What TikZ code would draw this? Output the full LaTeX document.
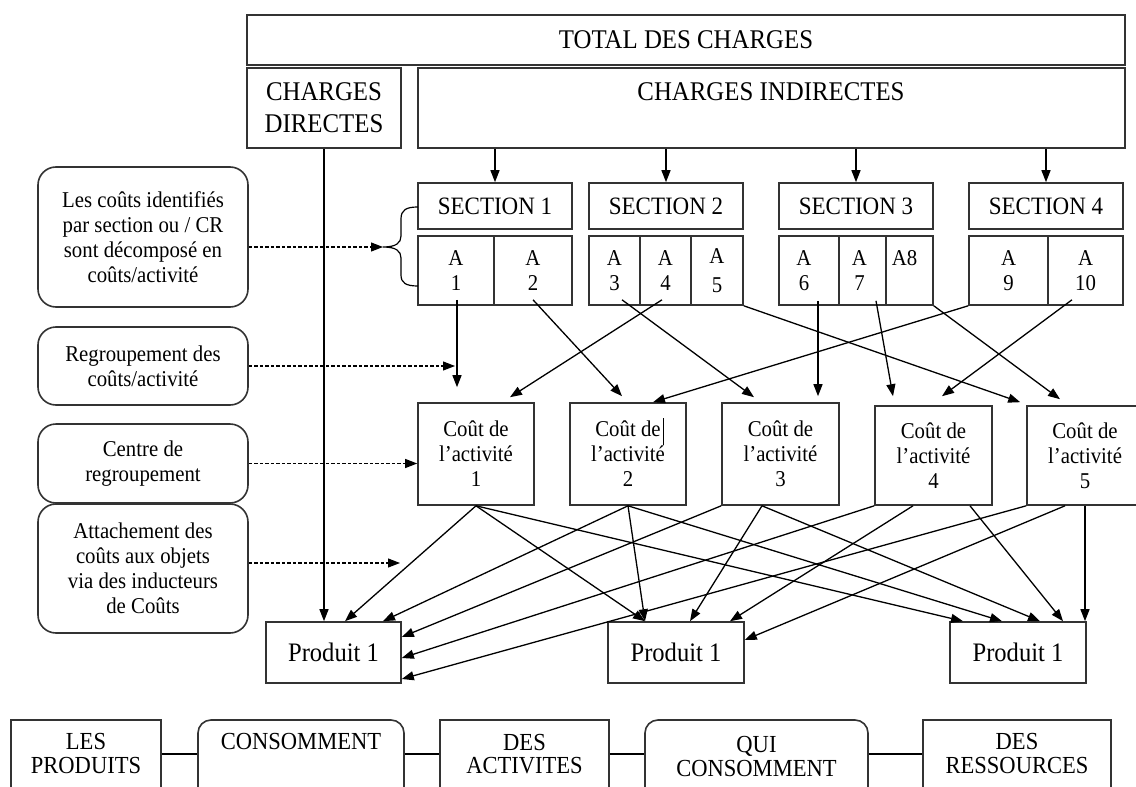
\documentclass[tikz,border=0pt]{standalone}
\usepackage{fontspec}
\setmainfont{Liberation Serif}[FakeStretch=0.92]
\usetikzlibrary{arrows.meta,calc}

\begin{document}
\begin{tikzpicture}[x=1pt,y=-1pt,
  box/.style={draw=black!80, line width=1.6pt, inner sep=0pt, align=center},
  rbox/.style={box, rounded corners=18pt},
  rsmall/.style={box, rounded corners=13pt},
  big/.style={font=\fontsize{27}{32}\selectfont},
  sec/.style={font=\fontsize{25}{30}\selectfont},
  mid/.style={font=\fontsize{22.6}{25}\selectfont, align=center},
  prod/.style={font=\fontsize{26.7}{30}\selectfont},
  low/.style={font=\fontsize{24.5}{23.5}\selectfont, align=center},
  arr/.style={line width=1.3pt, -{Triangle[length=12pt,width=9pt]}},
  dasharr/.style={line width=1.1pt, dash pattern=on 3.5pt off 2pt, -{Triangle[length=12pt,width=9pt]}},
  conn/.style={line width=1.3pt},
]
\useasboundingbox (0,0) rectangle (1136,787);
\fill[white] (0,0) rectangle (1136,787);
\clip (0,0) rectangle (1136,787);

% --- charges ---
\node[box,big,minimum width=878pt,minimum height=50pt] (total) at (686,40) {TOTAL DES CHARGES};
\node[box,big,minimum width=154pt,minimum height=80pt] (cd) at (324,108) {CHARGES\\DIRECTES};
\node[box,minimum width=707pt,minimum height=80pt] (ci) at (771.5,108) {};
\node[big] (ci-t) at (771,92) {CHARGES INDIRECTES};

% --- sections ---
\node[box,sec,minimum width=154pt,minimum height=46pt] (s1) at (495,206) {SECTION 1};
\node[box,sec,minimum width=154pt,minimum height=46pt] (s2) at (666,206) {SECTION 2};
\node[box,sec,minimum width=154pt,minimum height=46pt] (s3) at (856,206) {SECTION 3};
\node[box,sec,minimum width=154pt,minimum height=46pt] (s4) at (1046,206) {SECTION 4};

% --- activities ---
\node[box,mid,minimum width=76pt,minimum height=69pt] (a1) at (456,270.5) {A\\1};
\node[box,mid,minimum width=78pt,minimum height=69pt] (a2) at (533,270.5) {A\\2};
\node[box,mid,minimum width=51pt,minimum height=69pt] (a3) at (614.5,270.5) {A\\3};
\node[box,mid,minimum width=51pt,minimum height=69pt] (a4) at (665.5,270.5) {A\\4};
\node[box,mid,minimum width=52pt,minimum height=69pt] (a5) at (717,270.5) {A\\[4pt]5};
\node[box,minimum width=60pt,minimum height=69pt] (a6) at (809,270.5) {};
\node[mid] (a6-t) at (804,270.5) {A\\6};
\node[box,minimum width=47pt,minimum height=69pt] (a7) at (862.5,270.5) {};
\node[mid] (a7-t) at (859.5,270.5) {A\\7};
\node[box,minimum width=47pt,minimum height=69pt] (a8) at (909.5,270.5) {};
\node[mid] (a8-t) at (904.5,258) {A8};
\node[box,mid,minimum width=79pt,minimum height=69pt] (a9) at (1008.5,270.5) {A\\9};
\node[box,mid,minimum width=75pt,minimum height=69pt] (a10) at (1085.5,270.5) {A\\10};

% brace grouping section 1
\coordinate (brtip) at (383,247);
\draw[line width=1.2pt] (418,207) .. controls (406,207) and (401,210) .. (401,219) -- (401,236)
  .. controls (401,243) and (396,247) .. (383,247)
  .. controls (396,247) and (401,251) .. (401,258) -- (401,275)
  .. controls (401,283) and (406,286) .. (418,286);

% --- activity costs ---
\node[box,mid,minimum width=116pt,minimum height=102pt] (c1) at (476,454) {Coût de\\l’activité\\1};
\node[box,mid,minimum width=116pt,minimum height=102pt] (c2) at (628,454) {Coût de\\l’activité\\2};
\node[box,mid,minimum width=117pt,minimum height=102pt] (c3) at (780.5,454) {Coût de\\l’activité\\3};
\node[box,mid,minimum width=117pt,minimum height=99pt] (c4) at (933.5,455.5) {Coût de\\l’activité\\4};
\node[box,mid,minimum width=116pt,minimum height=99pt] (c5) at (1085,455.5) {Coût de\\l’activité\\5};
\draw[line width=0.8pt] (663,418) -- (663,445);

% --- products ---
\node[box,prod,minimum width=135pt,minimum height=61pt] (p1) at (333.5,652.5) {Produit 1};
\node[box,prod,minimum width=136pt,minimum height=61pt] (p2) at (676,652.5) {Produit 1};
\node[box,prod,minimum width=136pt,minimum height=61pt] (p3) at (1018,652.5) {Produit 1};

% --- explanations ---
\node[rbox,mid,minimum width=210pt,minimum height=140pt] (l1) at (143,237)
  {Les coûts identifiés\\par section ou / CR\\sont décomposé en\\coûts/activité};
\node[rbox,mid,minimum width=210pt,minimum height=78pt] (l2) at (143,366)
  {Regroupement des\\coûts/activité};
\node[rbox,mid,minimum width=210pt,minimum height=79pt] (l3) at (143,463.5)
  {Centre de\\regroupement};
\node[rbox,mid,minimum width=210pt,minimum height=129pt] (l4) at (143,568.5)
  {Attachement des\\coûts aux objets\\via des inducteurs\\de Coûts};

\coordinate (d2tip) at (455,366);
\coordinate (d4tip) at (400,563);
\draw[dasharr] ([yshift=-10pt]l1.east) -- (brtip);
\draw[dasharr] (l2.east) -- (d2tip);
\draw[dasharr] (l3.east) -- (l3.east -| c1.west);
\draw[dasharr] ([yshift=5.5pt]l4.east) -- (d4tip);

% --- charges to sections / products ---
\foreach \s in {s1,s2,s3,s4} \draw[arr] (ci.south -| \s.north) -- (\s.north);
\draw[arr] (cd.south) -- (cd.south |- p1.north);

% --- activities to activity costs ---
\draw[arr] ($(a1.south)+(1,-6)$) -- ($(c1.north)+(-19,-15)$);
\draw[arr] ($(a2.south)+(0,-6)$) -- ($(c2.north)+(-6,-6)$);
\draw[arr] ($(a3.south)+(7.5,-6)$) -- ($(c3.north)+(-26.5,-5)$);
\draw[arr] ($(a4.south)+(-3.5,-6)$) -- ($(c1.north)+(34,-5)$);
\draw[arr] (a5.south east) -- ($(c5.north west)+(-6,-3)$);
\draw[arr] (a9.south west) -- ($(c2.north)+(25,0)$);
\draw[arr] ($(a6.south)+(9,-5)$) -- ($(c3.north)+(37.5,-6)$);
\draw[arr] ($(a7.south)+(13.5,-5)$) -- ($(c4.north)+(-40.5,-9)$);
\draw[arr] (a8.south east) -- ($(c5.north)+(-25,-6)$);
\draw[arr] ($(a10.south)+(-13.5,-6)$) -- ($(c4.north)+(8.5,-9)$);

% --- activity costs to products ---
\draw[arr] (c1.south) -- ($(p1.north)+(11.5,0)$);
\draw[arr] (c1.south) -- ($(p2.north)+(-31,0)$);
\draw[arr] (c1.south) -- ($(p3.north)+(-55,0)$);
\draw[arr] (c2.south) -- ($(p1.north)+(49.5,0)$);
\draw[arr] (c2.south) -- ($(p2.north)+(-31,0)$);
\draw[arr] (c2.south) -- ($(p3.north)+(-16,0)$);
\draw[arr] (c3.south west) -- ($(p1.east)+(0,-15.5)$);
\draw[arr] ($(c3.south)+(-18.5,0)$) -- ($(p2.north)+(14,0)$);
\draw[arr] ($(c3.south)+(-18.5,0)$) -- ($(p3.north)+(22,0)$);
\draw[arr] (c4.south west) -- ($(p1.east)+(0,5.5)$);
\draw[arr] ($(c4.south)+(-20.5,0)$) -- ($(p2.north)+(54,0)$);
\draw[arr] ($(c4.south)+(36.5,0)$) -- ($(p3.north)+(45,0)$);
\draw[arr] (c5.south west) -- ($(p1.east)+(0,26.5)$);
\draw[arr] ($(c5.south)+(-20,0)$) -- ($(p2.east)+(0,-12.5)$);
\draw[arr] (c5.south) -- (c5.south |- p3.north);

% --- summary row ---
\node[box,minimum width=150pt,minimum height=90pt] (b1) at (86,765) {};
\node[rsmall,minimum width=206pt,minimum height=90pt] (b2) at (301,765) {};
\node[box,minimum width=169pt,minimum height=90pt] (b3) at (524.5,765) {};
\node[rsmall,minimum width=223pt,minimum height=90pt] (b4) at (756.5,765) {};
\node[box,minimum width=188pt,minimum height=90pt] (b5) at (1017,765) {};
\node[low] (t1) at (86,753.5) {LES\\PRODUITS};
\node[low] (t2) at (301,742) {CONSOMMENT};
\node[low] (t3) at (524.5,754) {DES\\ACTIVITES};
\node[low] (t4) at (756.5,756.5) {QUI\\CONSOMMENT};
\node[low] (t5) at (1017,753.5) {DES\\RESSOURCES};
\draw[conn] ([yshift=11pt]b1.east) -- ([yshift=11pt]b2.west);
\draw[conn] ([yshift=11pt]b2.east) -- ([yshift=11pt]b3.west);
\draw[conn] ([yshift=11pt]b3.east) -- ([yshift=11pt]b4.west);
\draw[conn] ([yshift=11pt]b4.east) -- ([yshift=11pt]b5.west);
\end{tikzpicture}
\end{document}
